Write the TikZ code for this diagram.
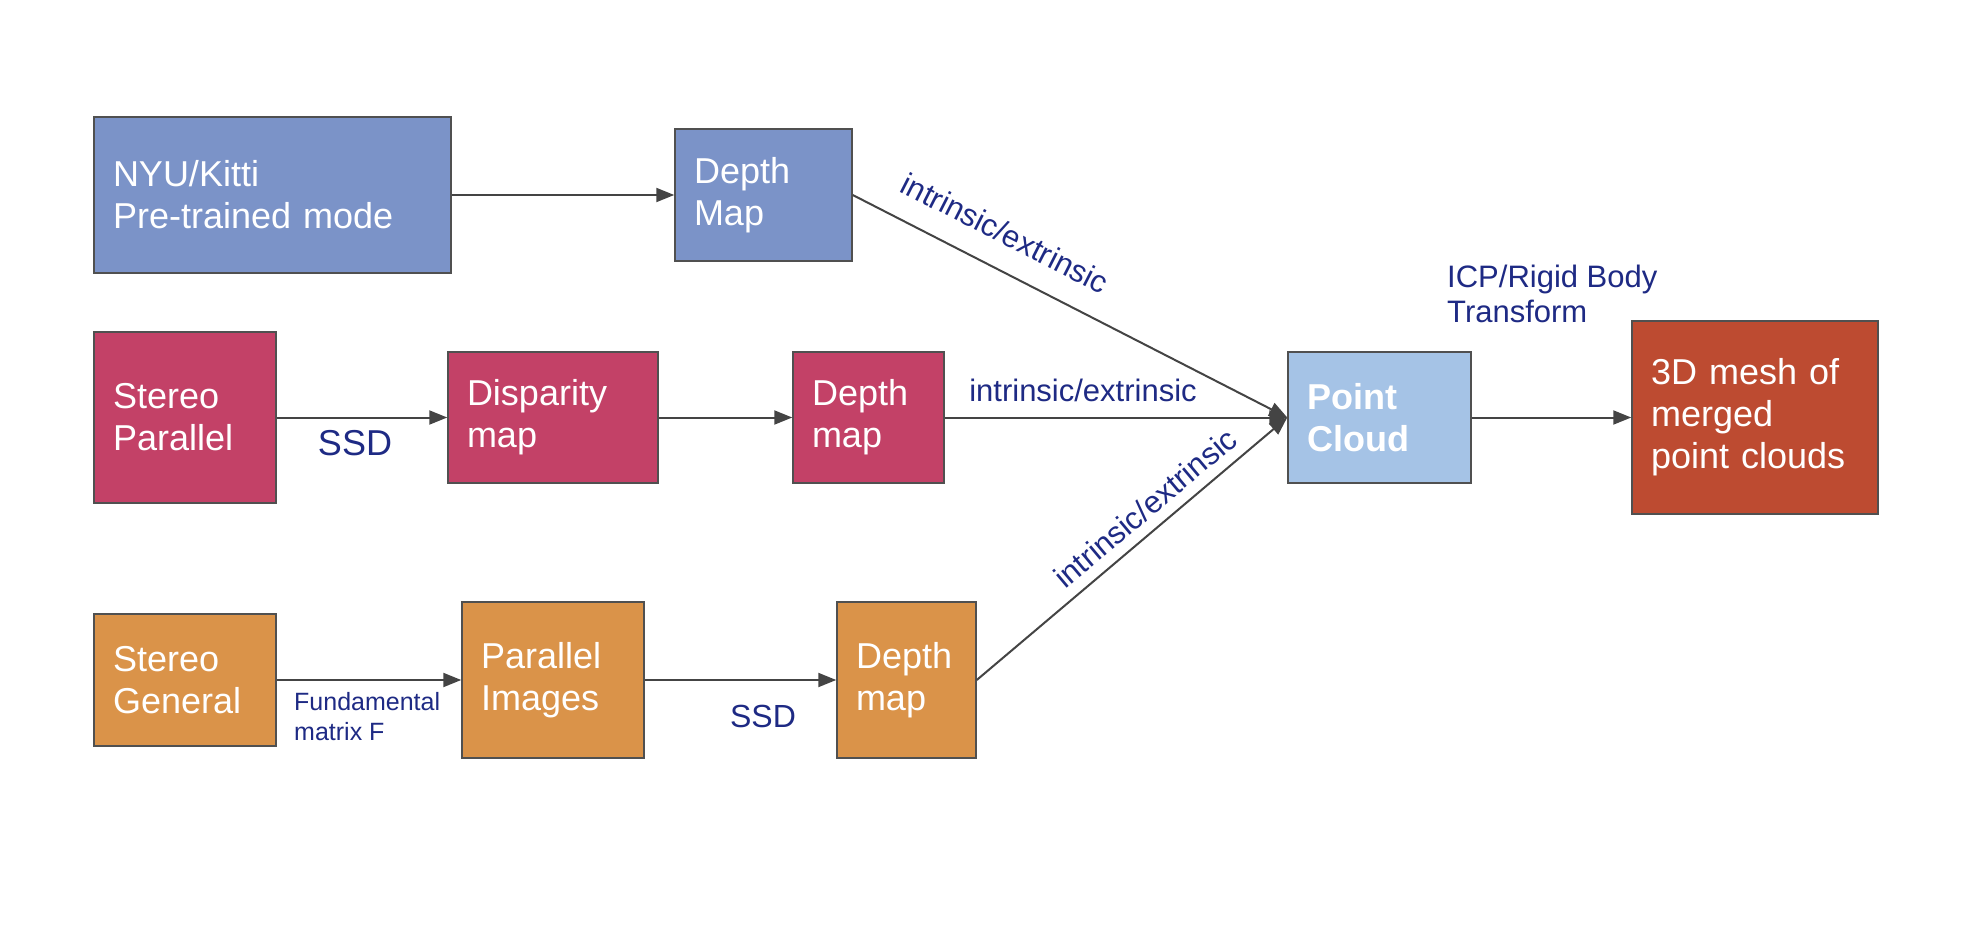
\documentclass[tikz,border=0pt]{standalone}
\usepackage{fontspec}
\setmainfont{Liberation Sans}
\usetikzlibrary{arrows.meta}
\definecolor{cblue}{HTML}{7B93C8}
\definecolor{ccrim}{HTML}{C34167}
\definecolor{corange}{HTML}{DA9349}
\definecolor{clight}{HTML}{A5C3E6}
\definecolor{cred}{HTML}{BD4B31}
\definecolor{cborder}{HTML}{505050}
\definecolor{carrow}{HTML}{444444}
\definecolor{clabel}{HTML}{1E2A84}
\tikzset{
  boxnode/.style n args={2}{draw=cborder, line width=1.5pt, text=white,
    minimum height=#2pt, text width=#1pt-38pt, inner xsep=19pt, inner ysep=0pt,
    align=left, font=\fontsize{36}{42}\selectfont},
  conn/.style={draw=carrow, line width=2pt, -{Triangle[length=18pt,width=14pt]}},
  lbl/.style={text=clabel, inner sep=0pt, font=\fontsize{31}{35}\selectfont, align=left},
}
\begin{document}
\begin{tikzpicture}[x=1pt,y=-1pt]
\useasboundingbox[fill=white] (0,0) rectangle (1970,944);
% boxes
\node[boxnode={357}{156}, fill=cblue] (nyu) at (272.5,195) {NYU/Kitti\\Pre-trained mode};
\node[boxnode={177}{132}, fill=cblue] (dtop) at (763.5,195) {Depth\\Map};
\node[boxnode={182}{171}, fill=ccrim] (sp) at (185,417.5) {Stereo\\Parallel};
\node[boxnode={210}{131}, fill=ccrim] (disp) at (553,417.5) {Disparity\\map};
\node[boxnode={151}{131}, fill=ccrim] (dmid) at (868.5,417.5) {Depth\\map};
\node[boxnode={183}{131}, fill=clight, font=\fontsize{36}{42}\selectfont\bfseries] (pc) at (1379.5,417.5) {Point\\Cloud};
\node[boxnode={246}{193}, fill=cred] (mesh) at (1755,417.5) {3D mesh of\\merged\\point clouds};
\node[boxnode={182}{132}, fill=corange] (sg) at (185,680) {Stereo\\General};
\node[boxnode={182}{156}, fill=corange] (pi) at (553,680) {Parallel\\Images};
\node[boxnode={139}{156}, fill=corange] (dbot) at (906.5,680) {Depth\\map};
% connectors
\draw[conn] (nyu.east) -- (dtop.west);
\draw[conn] (sp.east) -- (disp.west);
\draw[conn] (disp.east) -- (dmid.west);
\draw[conn] (dmid.east) -- (pc.west);
\draw[conn] (dtop.east) -- (pc.west);
\draw[conn] (dbot.east) -- (pc.west);
\draw[conn] (pc.east) -- (mesh.west);
\draw[conn] (sg.east) -- (pi.west);
\draw[conn] (pi.east) -- (dbot.west);
% labels
\node[lbl, font=\fontsize{36}{42}\selectfont] (ssd1) at (355,443) {SSD};
\node[lbl, font=\fontsize{32}{38}\selectfont] (ssd2) at (763,716) {SSD};
\node[lbl, anchor=north west, font=\fontsize{25}{30}\selectfont] (fund) at (294,692) {Fundamental\\matrix F};
\node[lbl] (imid) at (1083,390) {intrinsic/extrinsic};
\node[lbl, rotate=-27] (itop) at (1005,233) {intrinsic/extrinsic};
\node[lbl, rotate=40] (ibot) at (1145,508) {intrinsic/extrinsic};
\node[lbl, anchor=north west] (icp) at (1447,265) {ICP/Rigid Body\\Transform};
\end{tikzpicture}
\end{document}
